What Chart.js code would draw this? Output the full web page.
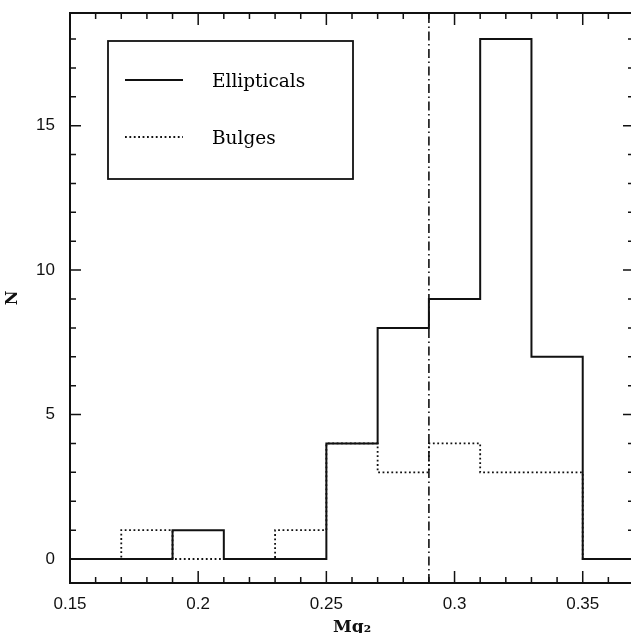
<!DOCTYPE html>
<html>
<head>
<meta charset="utf-8">
<script src="https://cdn.jsdelivr.net/npm/chart.js@4.4.1/dist/chart.umd.min.js"></script>
<style>
    html, body { margin: 0; padding: 0; background: #fff; overflow: hidden; }
    #wrap { width: 631px; height: 633px; overflow: hidden; }
    canvas { display: block; }
</style>
</head>
<body>
<div id="wrap"><canvas id="mg2-histogram" width="640" height="650"></canvas></div>
<script>
// histogram bins (Mg2) and counts per bin
const binEdges = [0.15, 0.17, 0.19, 0.21, 0.23, 0.25, 0.27, 0.29, 0.31, 0.33, 0.35, 0.37];
const ellipticalCounts = [0, 0, 1, 0, 0, 4, 8, 9, 18, 7, 0];
const bulgeCounts = [0, 1, 0, 0, 1, 4, 3, 4, 3, 3, 0];
const seriesLabels = ['Ellipticals', 'Bulges'];

// vertical dividing line
const cutMg2 = 0.29;

// axes
const xRange = [0.15, 0.37];
const yRange = [-0.83, 18.9];
const xTicks = [0.15, 0.2, 0.25, 0.3, 0.35];
const xTickLabels = ['0.15', '0.2', '0.25', '0.3', '0.35'];
const yTicks = [0, 5, 10, 15];
const yTickLabels = ['0', '5', '10', '15'];

function stepPoints(counts) {
    const pts = counts.map((c, i) => ({x: binEdges[i], y: c}));
    pts.push({x: binEdges[binEdges.length - 1], y: counts[counts.length - 1]});
    return pts;
}

const solidStyle = {borderColor: '#111', borderWidth: 2, borderDash: []};
const dottedStyle = {borderColor: '#111', borderWidth: 1.8, borderDash: [1.8, 2.6]};

const frameTicks = {
    id: 'frameTicks',
    afterDatasetsDraw(chart) {
        const {ctx, chartArea: a, scales: {x, y}} = chart;
        ctx.save();
        ctx.strokeStyle = '#111';
        ctx.lineWidth = 2;
        ctx.strokeRect(a.left, a.top, a.right - a.left, a.bottom - a.top);

        ctx.lineWidth = 1.5;
        ctx.beginPath();
        for (let i = 0; i <= 22; i++) {
            const px = x.getPixelForValue(xRange[0] + i * 0.01);
            const len = i % 5 === 0 ? 12 : 6;
            ctx.moveTo(px, a.bottom);
            ctx.lineTo(px, a.bottom - len);
            ctx.moveTo(px, a.top);
            ctx.lineTo(px, a.top + len);
        }
        for (let v = 0; v <= 18; v++) {
            const py = y.getPixelForValue(v);
            const len = v % 5 === 0 ? 11 : 6;
            ctx.moveTo(a.left, py);
            ctx.lineTo(a.left + len, py);
            ctx.moveTo(a.right, py);
            ctx.lineTo(a.right - len, py);
        }
        ctx.stroke();
        ctx.restore();
    }
};

const boxLegend = {
    id: 'boxLegend',
    afterDraw(chart) {
        const {ctx, chartArea: a} = chart;
        const left = a.left + 38, top = a.top + 28, w = 245, h = 138;
        ctx.save();
        ctx.strokeStyle = '#111';
        ctx.lineWidth = 1.8;
        ctx.strokeRect(left, top, w, h);

        const styles = [solidStyle, dottedStyle];
        ctx.font = '18.5px "DejaVu Serif"';
        ctx.fillStyle = '#000';
        ctx.textBaseline = 'middle';
        seriesLabels.forEach((label, i) => {
            const ly = top + 39 + i * 57;
            ctx.lineWidth = styles[i].borderWidth;
            ctx.setLineDash(styles[i].borderDash);
            ctx.beginPath();
            ctx.moveTo(left + 17, ly);
            ctx.lineTo(left + 75, ly);
            ctx.stroke();
            ctx.setLineDash([]);
            ctx.fillText(label, left + 104, ly + 2);
        });
        ctx.restore();
    }
};

const ctx = document.getElementById('mg2-histogram').getContext('2d');
new Chart(ctx, {
    type: 'line',
    data: {
        datasets: [
            {
                label: seriesLabels[0],
                data: stepPoints(ellipticalCounts),
                stepped: 'before',
                ...solidStyle,
                pointRadius: 0,
                fill: false,
            },
            {
                label: seriesLabels[1],
                data: stepPoints(bulgeCounts),
                stepped: 'before',
                ...dottedStyle,
                pointRadius: 0,
                fill: false,
            },
            {
                label: 'cut',
                data: [{x: cutMg2, y: yRange[0]}, {x: cutMg2, y: yRange[1]}],
                borderColor: '#111',
                borderWidth: 1.6,
                borderDash: [9, 3.5, 1.5, 3.5],
                pointRadius: 0,
                fill: false,
            },
        ],
    },
    options: {
        responsive: false,
        animation: false,
        devicePixelRatio: 1,
        layout: {padding: {top: 13, right: 6, left: 0, bottom: 0}},
        plugins: {
            legend: {display: false},
            tooltip: {enabled: false},
        },
        scales: {
            x: {
                type: 'linear',
                bounds: 'data',
                min: xRange[0],
                max: xRange[1],
                afterBuildTicks: (scale) => { scale.ticks = xTicks.map(v => ({value: v})); },
                afterFit: (scale) => {
                    scale.height = 67;
                    scale.paddingLeft = 0;
                    scale.paddingRight = 0;
                },
                grid: {display: false},
                border: {display: false},
                ticks: {
                    autoSkip: false,
                    maxRotation: 0,
                    padding: 3,
                    color: '#111',
                    font: {family: '"Liberation Sans"', size: 17},
                    callback: (v) => xTickLabels[xTicks.findIndex(t => Math.abs(t - v) < 1e-6)],
                },
                title: {
                    display: true,
                    text: 'Mg₂',
                    color: '#111',
                    font: {family: '"DejaVu Serif"', size: 17, weight: 'bold'},
                    padding: {top: 0, bottom: 12},
                },
            },
            y: {
                type: 'linear',
                bounds: 'data',
                min: yRange[0],
                max: yRange[1],
                afterBuildTicks: (scale) => { scale.ticks = yTicks.map(v => ({value: v})); },
                afterFit: (scale) => {
                    scale.width = 70;
                    scale.paddingTop = 0;
                    scale.paddingBottom = 0;
                },
                grid: {display: false},
                border: {display: false},
                ticks: {
                    autoSkip: false,
                    padding: 7,
                    color: '#111',
                    font: {family: '"Liberation Sans"', size: 17},
                    callback: (v) => yTickLabels[yTicks.indexOf(v)],
                },
                title: {
                    display: true,
                    text: 'N',
                    color: '#111',
                    font: {family: '"DejaVu Serif"', size: 16, weight: 'bold'},
                    padding: {top: 3, bottom: 0},
                },
            },
        },
    },
    plugins: [frameTicks, boxLegend],
});
</script>
</body>
</html>
